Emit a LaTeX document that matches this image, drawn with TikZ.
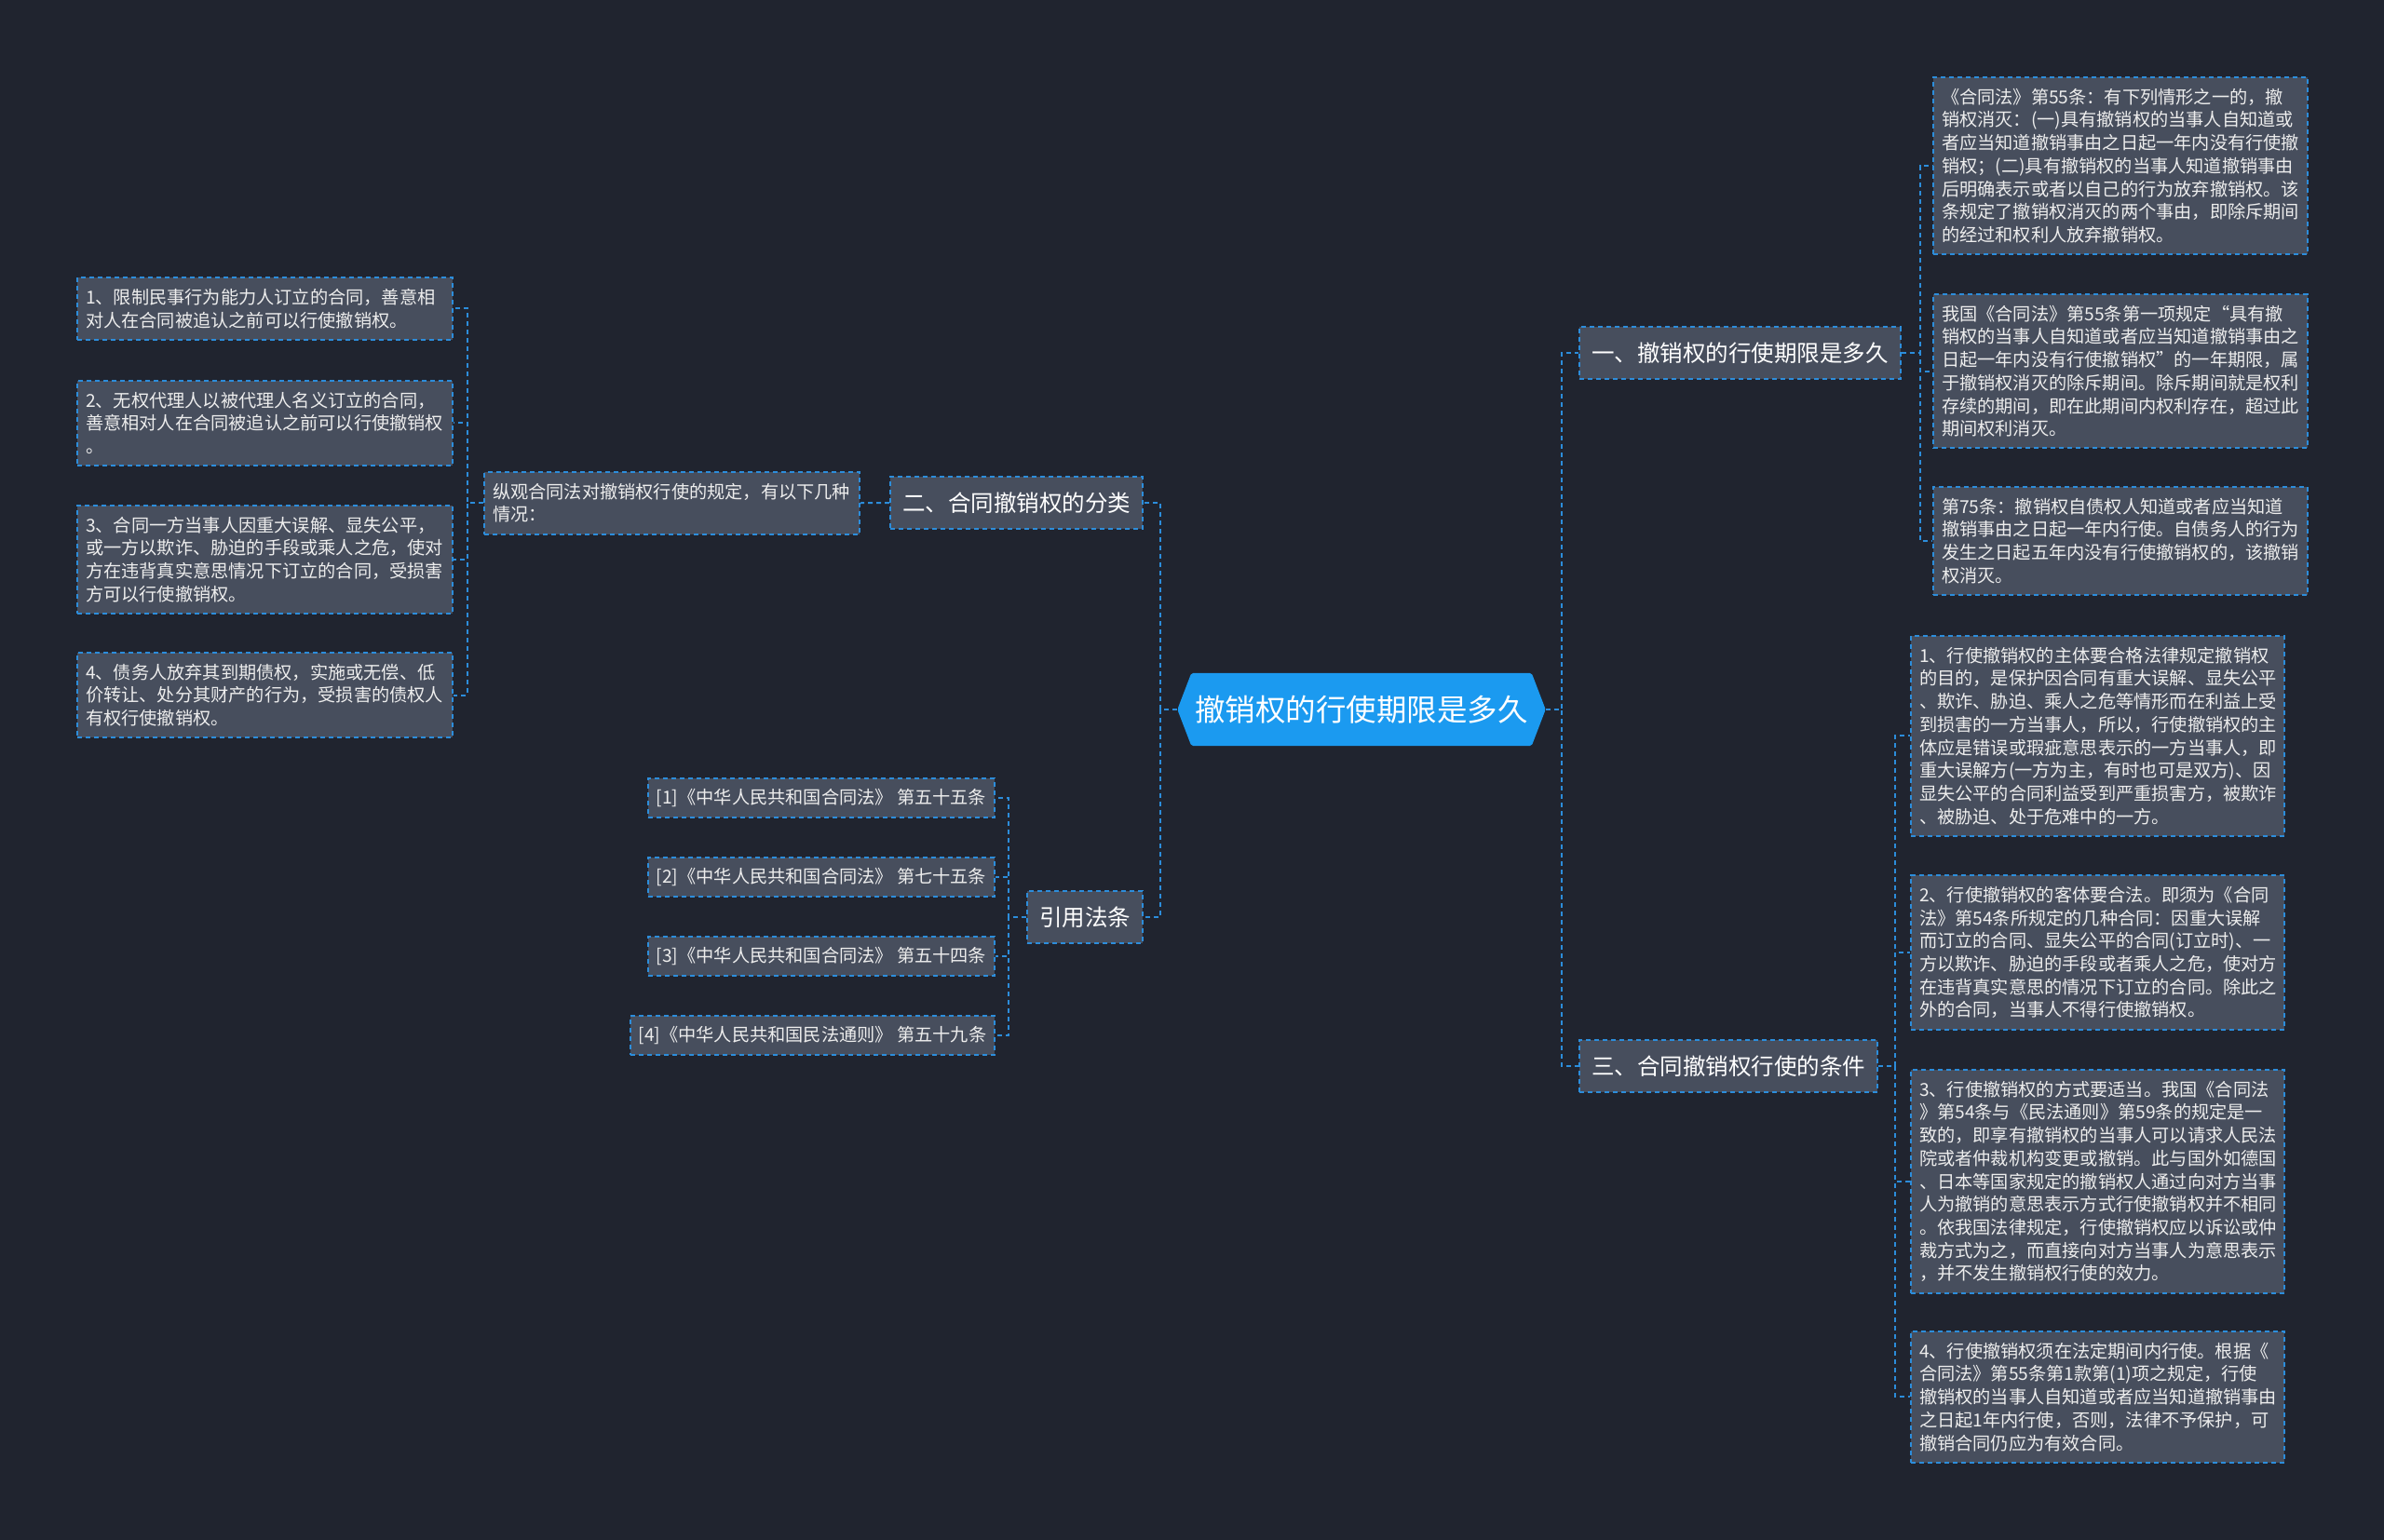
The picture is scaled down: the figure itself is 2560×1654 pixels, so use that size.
\documentclass[tikz,border=0pt]{standalone}
\usepackage{fontspec}
\setmainfont{Noto Sans CJK SC}
\usetikzlibrary{calc}
\pgfdeclarelayer{background}
\pgfsetlayers{background,main}
\definecolor{bgc}{HTML}{20242F}
\definecolor{boxfill}{HTML}{474E5D}
\definecolor{lineblue}{HTML}{2C8DDB}
\definecolor{cblue}{HTML}{1B9AF0}
\definecolor{txt}{HTML}{EDEDED}
\tikzset{
  dashline/.style={draw=lineblue, line width=2pt, dash pattern=on 5pt off 4pt},
  conn/.style={dashline},
  leaf/.style={dashline, fill=boxfill, text=txt,
    font=\fontsize{19.2pt}{24.7pt}\selectfont, align=left,
    inner xsep=9pt, inner ysep=12pt, anchor=north west, text width=#1},
  refbox/.style={dashline, fill=boxfill, text=txt,
    font=\fontsize{19.2pt}{24.7pt}\selectfont,
    inner xsep=8pt, inner ysep=0pt, minimum height=42pt, anchor=east},
  branch/.style={dashline, fill=boxfill, text=white,
    font=\fontsize{24.5pt}{28pt}\selectfont,
    inner xsep=13pt, inner ysep=0pt, minimum height=56pt},
  central/.style={text=white, font=\fontsize{32.5pt}{36pt}\selectfont,
    minimum width=395pt, minimum height=78pt, inner sep=0pt}
}
\begin{document}
\begin{tikzpicture}[x=1pt, y=-1pt]
\useasboundingbox (0,0) rectangle (2560,1654);

% central
\node[central] (c) at (1462,762) {撤销权的行使期限是多久};

% right branches
\node[branch, anchor=west] (b1) at (1695,379) {一、撤销权的行使期限是多久};
\node[branch, anchor=west] (b3) at (1695,1145) {三、合同撤销权行使的条件};

% left branches
\node[branch, anchor=east] (b2) at (1228,540) {二、合同撤销权的分类};
\node[branch, anchor=east] (b4) at (1228,985) {引用法条};

% b1 children
\node[leaf=384pt] (a1) at (2075,82) {《合同法》第55条：有下列情形之一的，撤\\销权消灭：(一)具有撤销权的当事人自知道或\\者应当知道撤销事由之日起一年内没有行使撤\\销权；(二)具有撤销权的当事人知道撤销事由\\后明确表示或者以自己的行为放弃撤销权。该\\条规定了撤销权消灭的两个事由，即除斥期间\\的经过和权利人放弃撤销权。};
\node[leaf=384pt] (a2) at (2075,315) {我国《合同法》第55条第一项规定“具有撤\\销权的当事人自知道或者应当知道撤销事由之\\日起一年内没有行使撤销权”的一年期限，属\\于撤销权消灭的除斥期间。除斥期间就是权利\\存续的期间，即在此期间内权利存在，超过此\\期间权利消灭。};
\node[leaf=384pt] (a3) at (2075,522) {第75条：撤销权自债权人知道或者应当知道\\撤销事由之日起一年内行使。自债务人的行为\\发生之日起五年内没有行使撤销权的，该撤销\\权消灭。};

% b3 children
\node[leaf=383pt] (d1) at (2051,682) {1、行使撤销权的主体要合格法律规定撤销权\\的目的，是保护因合同有重大误解、显失公平\\、欺诈、胁迫、乘人之危等情形而在利益上受\\到损害的一方当事人，所以，行使撤销权的主\\体应是错误或瑕疵意思表示的一方当事人，即\\重大误解方(一方为主，有时也可是双方)、因\\显失公平的合同利益受到严重损害方，被欺诈\\、被胁迫、处于危难中的一方。};
\node[leaf=383pt] (d2) at (2051,939) {2、行使撤销权的客体要合法。即须为《合同\\法》第54条所规定的几种合同：因重大误解\\而订立的合同、显失公平的合同(订立时)、一\\方以欺诈、胁迫的手段或者乘人之危，使对方\\在违背真实意思的情况下订立的合同。除此之\\外的合同，当事人不得行使撤销权。};
\node[leaf=383pt] (d3) at (2051,1148) {3、行使撤销权的方式要适当。我国《合同法\\》第54条与《民法通则》第59条的规定是一\\致的，即享有撤销权的当事人可以请求人民法\\院或者仲裁机构变更或撤销。此与国外如德国\\、日本等国家规定的撤销权人通过向对方当事\\人为撤销的意思表示方式行使撤销权并不相同\\。依我国法律规定，行使撤销权应以诉讼或仲\\裁方式为之，而直接向对方当事人为意思表示\\，并不发生撤销权行使的效力。};
\node[leaf=383pt] (d4) at (2051,1429) {4、行使撤销权须在法定期间内行使。根据《\\合同法》第55条第1款第(1)项之规定，行使\\撤销权的当事人自知道或者应当知道撤销事由\\之日起1年内行使，否则，法律不予保护，可\\撤销合同仍应为有效合同。};

% b2 child
\node[leaf=385pt] (z) at (519,506) {纵观合同法对撤销权行使的规定，有以下几种\\情况：};

% z children
\node[leaf=385pt] (l1) at (82,297) {1、限制民事行为能力人订立的合同，善意相\\对人在合同被追认之前可以行使撤销权。};
\node[leaf=385pt] (l2) at (82,408) {2、无权代理人以被代理人名义订立的合同，\\善意相对人在合同被追认之前可以行使撤销权\\。};
\node[leaf=385pt] (l3) at (82,542) {3、合同一方当事人因重大误解、显失公平，\\或一方以欺诈、胁迫的手段或乘人之危，使对\\方在违背真实意思情况下订立的合同，受损害\\方可以行使撤销权。};
\node[leaf=385pt] (l4) at (82,700) {4、债务人放弃其到期债权，实施或无偿、低\\价转让、处分其财产的行为，受损害的债权人\\有权行使撤销权。};

% references
\node[refbox, minimum width=372pt] (r1) at (1069,857) {[1]《中华人民共和国合同法》 第五十五条};
\node[refbox, minimum width=372pt] (r2) at (1069,942) {[2]《中华人民共和国合同法》 第七十五条};
\node[refbox, minimum width=372pt] (r3) at (1069,1027) {[3]《中华人民共和国合同法》 第五十四条};
\node[refbox, minimum width=391pt] (r4) at (1069,1112) {[4]《中华人民共和国民法通则》 第五十九条};

% connectors
\draw[conn] (c.west) -- ++(-18,0) |- (b2.east);
\draw[conn] (c.west) -- ++(-18,0) |- (b4.east);
\draw[conn] (c.east) -- ++(17,0) |- (b1.west);
\draw[conn] (c.east) -- ++(17,0) |- (b3.west);
\foreach \t in {a1,a2,a3} \draw[conn] (b1.east) -- ++(20,0) |- (\t.west);
\foreach \t in {d1,d2,d3,d4} \draw[conn] (b3.east) -- ++(18,0) |- (\t.west);
\draw[conn] (b2.west) -- (z.east);
\foreach \t in {l1,l2,l3,l4} \draw[conn] (z.west) -- ++(-17,0) |- (\t.east);
\foreach \t in {r1,r2,r3,r4} \draw[conn] (b4.west) -- ++(-19,0) |- (\t.east);

\begin{pgfonlayer}{background}
\fill[bgc] (0,0) rectangle (2560,1654);
\fill[cblue, rounded corners=2pt] (c.west) -- ($(c.north west)+(15,0)$) -- ($(c.north east)+(-15,0)$) -- (c.east) -- ($(c.south east)+(-15,0)$) -- ($(c.south west)+(15,0)$) -- cycle;
\end{pgfonlayer}
\end{tikzpicture}
\end{document}
